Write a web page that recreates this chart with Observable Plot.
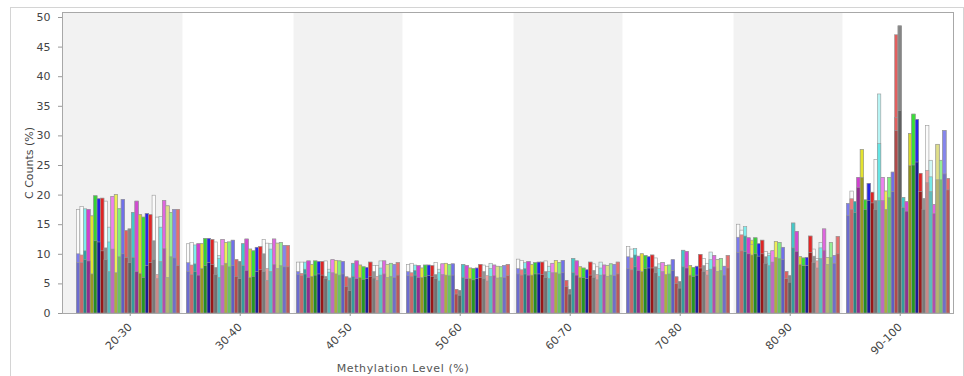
<!DOCTYPE html>
<html><head><meta charset="utf-8">
<script src="https://cdn.jsdelivr.net/npm/d3@7"></script>
<script src="https://cdn.jsdelivr.net/npm/@observablehq/plot@0.6"></script>
<style>
html,body{margin:0;padding:0;background:#fff;}
#wrap{position:relative;width:964px;height:376px;overflow:hidden;font-family:"DejaVu Sans",sans-serif;}
#border{position:absolute;left:10px;top:7px;width:954px;height:420px;border:1px solid #d4d4d4;box-sizing:border-box;pointer-events:none;}
#xlabel{width:806px;text-align:center;font-size:11px;color:#555;letter-spacing:0.6px;padding-top:6px;line-height:14px;}
svg{display:block;}
</style></head>
<body><div id="wrap"><div id="chart"></div><div id="xlabel">Methylation Level (%)</div><div id="border"></div></div>
<script>
const groups = ["20-30","30-40","40-50","50-60","60-70","70-80","80-90","90-100"];
const samples = ["S1","S2","S3","S4","S5","S6","S7","S8","S9","S10","S11","S12","S13","S14","S15",
  "S16","S17","S18","S19","S20","S21","S22","S23","S24","S25","S26","S27","S28","S29","S30"];
const yTicks = [0,5,10,15,20,25,30,35,40,45,50];
const yDomain = [0, 50];

// back layer (full bar height)
const topCounts = [
  [17.5,18.0,17.6,17.5,16.4,19.8,19.3,19.4,18.9,14.5,19.7,20.0,17.6,19.2,13.9,14.2,17.0,18.9,16.6,16.2,16.8,16.6,19.9,16.2,16.3,19.0,18.1,17.0,17.5,17.5],
  [11.7,11.9,11.5,11.7,11.7,12.6,12.6,12.4,12.0,9.7,12.4,11.9,12.0,12.3,9.0,8.7,11.7,12.5,10.8,10.5,11.1,11.2,12.4,11.8,11.7,12.5,11.8,11.9,11.4,11.4],
  [8.6,8.6,8.6,8.8,8.2,8.8,8.7,8.7,8.8,7.4,9.0,8.9,8.8,8.7,6.1,5.9,8.4,8.8,8.1,7.8,7.7,8.6,8.0,8.0,8.8,8.8,8.2,8.4,8.2,8.5],
  [8.2,8.4,8.1,8.0,7.6,8.1,8.1,8.0,8.5,7.4,8.3,8.4,8.2,8.3,4.0,3.8,8.2,8.0,7.6,7.5,7.6,8.2,8.1,7.9,8.4,8.1,7.9,7.8,8.0,8.2],
  [9.1,8.9,8.5,8.7,8.2,8.5,8.6,8.6,8.8,7.9,8.4,8.9,8.5,8.9,5.5,4.0,9.2,8.8,7.8,7.6,7.3,8.6,8.3,7.8,8.6,8.1,8.0,8.3,8.2,8.6],
  [11.2,10.8,10.9,9.6,10.0,9.7,9.5,9.8,9.3,8.3,8.5,8.0,8.1,9.0,6.1,5.3,10.6,10.4,8.0,7.7,7.9,9.9,9.2,8.4,10.3,9.7,9.0,9.2,7.9,9.7],
  [15.0,14.0,14.6,12.7,12.3,12.7,11.7,12.3,10.4,10.1,10.5,12.1,11.9,11.1,7.0,6.3,15.2,13.8,9.5,9.3,9.4,13.0,10.8,9.2,11.9,14.2,9.4,11.9,9.7,12.9],
  [18.5,20.6,18.8,22.9,27.6,19.1,21.9,20.4,25.9,37.0,22.9,20.6,22.9,23.8,47.0,48.5,19.5,18.8,30.3,33.6,32.7,23.6,19.3,31.7,25.8,18.3,28.5,25.8,30.8,22.7]
];
// middle layer (series colour)
const midCounts = [
  [10.0,9.8,10.5,17.5,16.4,19.8,19.3,19.4,11.0,12.0,19.7,20.0,17.6,19.2,13.9,14.2,17.0,18.9,16.6,16.2,16.8,16.6,12.2,6.5,14.5,19.0,18.1,17.0,17.5,17.5],
  [8.5,8.1,8.3,11.7,11.7,12.6,12.6,12.4,7.7,9.2,12.4,11.9,12.0,12.3,9.0,8.7,11.7,12.5,10.8,10.5,11.1,11.2,10.0,7.5,10.8,12.5,11.8,11.9,11.4,11.4],
  [7.0,6.7,7.4,8.8,8.2,8.8,8.7,8.7,6.2,6.9,9.0,8.9,8.8,8.7,6.1,5.9,8.4,8.8,8.1,7.8,7.7,8.6,7.0,6.2,7.6,8.8,8.2,8.4,8.2,8.5],
  [7.0,6.8,7.2,8.0,7.6,8.1,8.1,8.0,6.5,6.8,8.3,8.4,8.2,8.3,4.0,3.8,8.2,8.0,7.6,7.5,7.6,8.2,7.0,6.3,7.5,8.1,7.9,7.8,8.0,8.2],
  [7.5,7.3,7.5,8.7,8.2,8.5,8.6,8.6,7.0,7.0,8.4,8.9,8.5,8.9,5.5,4.0,9.2,8.8,7.8,7.6,7.3,8.6,7.2,6.5,7.6,8.1,8.0,8.3,8.2,8.6],
  [9.5,9.3,9.8,9.6,10.0,9.7,9.5,9.8,7.8,7.5,8.5,8.0,8.1,9.0,6.1,5.3,10.6,10.4,8.0,7.7,7.9,9.9,8.0,7.2,9.0,9.7,9.0,9.2,7.9,9.7],
  [12.8,13.2,13.0,12.7,11.6,12.7,11.7,12.3,9.5,9.7,10.5,12.1,11.9,11.1,7.0,6.3,15.2,13.8,9.5,9.3,9.4,13.0,9.6,8.8,11.0,14.2,9.4,11.9,9.7,12.9],
  [18.5,19.3,18.8,22.9,27.6,19.1,21.9,20.4,19.0,28.6,22.9,20.6,22.9,23.8,33.0,48.5,19.5,18.8,30.3,33.6,32.7,23.6,19.3,24.1,23.0,18.3,28.5,25.8,30.8,22.7]
];
// front layer (dark shade)
const lowCounts = [
  [8.5,8.5,9.0,8.8,6.6,12.2,12.0,10.5,9.0,7.0,10.8,6.8,9.5,10.0,9.4,8.5,9.4,7.0,6.7,6.0,8.0,8.5,9.0,5.8,8.7,10.9,6.0,9.5,9.3,8.0],
  [7.0,6.5,7.0,6.4,7.5,8.0,8.5,8.2,6.5,6.0,8.0,8.4,7.8,8.0,6.2,5.8,8.0,7.2,6.0,6.2,7.0,7.3,7.0,5.5,7.0,8.2,7.5,8.0,7.8,7.8],
  [6.5,6.3,6.6,6.0,6.2,6.4,6.6,6.4,5.8,5.5,6.8,6.6,6.4,6.6,4.5,3.8,6.2,5.8,6.0,5.7,5.8,6.2,5.9,5.5,6.4,6.6,6.0,6.2,6.0,6.4],
  [6.3,6.2,6.4,6.0,6.0,6.2,6.3,6.2,5.8,5.4,6.5,6.4,6.3,6.4,3.2,3.0,6.0,5.8,5.8,5.6,5.8,6.0,5.8,5.4,6.2,6.3,5.9,6.0,6.0,6.3],
  [6.6,6.4,6.6,6.4,6.4,6.6,6.6,6.5,6.0,5.8,6.8,6.8,6.6,6.8,4.5,3.2,6.8,6.4,6.0,6.0,5.8,6.4,6.0,5.6,6.4,6.5,6.2,6.4,6.3,6.6],
  [7.5,7.3,7.8,7.2,7.0,7.5,7.6,7.6,6.8,6.2,7.0,6.5,6.6,7.2,5.0,4.2,7.8,7.6,6.4,6.2,6.4,7.6,7.0,6.4,7.4,7.8,7.0,7.2,6.4,7.6],
  [10.2,10.5,10.4,10.0,9.8,10.0,9.6,10.0,8.4,8.0,8.6,9.4,9.2,9.0,5.8,5.2,11.0,10.4,8.2,8.0,8.0,10.2,8.5,7.6,9.2,10.6,8.2,9.4,8.4,10.0],
  [16.5,17.5,17.0,21.2,22.9,17.5,19.0,18.6,17.5,19.0,19.0,17.5,19.5,20.5,30.8,34.2,17.8,17.2,24.9,25.0,25.5,20.5,17.5,22.0,20.5,16.8,22.5,22.5,23.5,20.8]
];

const seriesColors = ["#7b7bef","#ee7b7b","#2fa3a3","#d23fd2","#e3e32f","#35d235","#2424e6","#e02424","#8c8c8c","#66e6e6",
  "#ee82ee","#eeee55","#80ef80","#7070ea","#e25f5f","#858585","#43c8c8","#d24ad2","#d6d62a","#36e036",
  "#2626e8","#e42626","#959595","#f0a3a3","#74e8e8","#e066e0","#e0df88","#94ef94","#8585ee","#e86e6e"];
const darkStrength = [0.4,0.5,0.6,1.1,1.1,1.1,1.2,1.1,0.6,0.6,0.6,0.9,0.6,0.5,0.7,0.9,0.7,1.1,1.1,1.1,1.2,1.1,0.6,0.5,0.6,0.7,0.6,0.6,0.5,0.6];
const lightTop = {0:"#fbfbfb",1:"#fbfbfb",2:"#7deeee",8:"#fbfbfb",9:"#b8f4f4",22:"#fbfbfb",23:"#fbfbfb",24:"#d2f6f6"};

const topFill = seriesColors.map((c, i) => lightTop[i] || c);
const darkFill = seriesColors.map((c, i) => d3.color(c).darker(darkStrength[i]).formatHex());

const rows = [];
groups.forEach((g, gi) => samples.forEach((s, si) => rows.push({
  group: g, si, key: g + "|" + s,
  top: topCounts[gi][si], mid: midCounts[gi][si], low: lowCounts[gi][si]
})));
const keys = groups.flatMap(g => [g + "|<", ...samples.map(s => g + "|" + s), g + "|>"]);
const whiteKeys = keys.filter(k => groups.indexOf(k.split("|")[0]) % 2 === 1);
const tickKeys = groups.map(g => g + "|" + samples[15]);

const edge = {stroke: "#999999", strokeWidth: 0.6};

const chart = Plot.plot({
  width: 964, height: 356,
  marginLeft: 62, marginRight: 11, marginTop: 12, marginBottom: 43,
  style: {fontFamily: "DejaVu Sans, sans-serif", fontSize: "11px", color: "#444", background: "transparent"},
  x: {domain: keys, padding: 0, round: false, insetLeft: 11, axis: null},
  y: {domain: yDomain, insetTop: 5, axis: null},
  color: {type: "identity"},
  marks: [
    Plot.frame({fill: "#f2f2f2"}),
    Plot.cell(whiteKeys, {x: d => d, fill: "white", stroke: "white", strokeWidth: 1}),
    Plot.barY(rows, {x: "key", y: "top", fill: d => topFill[d.si], ...edge}),
    Plot.barY(rows, {x: "key", y: "mid", fill: d => seriesColors[d.si], ...edge}),
    Plot.barY(rows, {x: "key", y: "low", fill: d => darkFill[d.si], ...edge}),
    Plot.frame({stroke: "#a8a8a8"}),
    Plot.axisY({ticks: yTicks, tickSize: 4, tickPadding: 8, stroke: "#999", label: "C Counts (%)", labelAnchor: "center", labelOffset: 37, labelArrow: "none"}),
    Plot.axisX({ticks: tickKeys, tickFormat: d => d.split("|")[0], tickRotate: -45, tickSize: 3, stroke: "#999", label: null})
  ]
});
document.getElementById("chart").appendChild(chart);
</script>
</body></html>
